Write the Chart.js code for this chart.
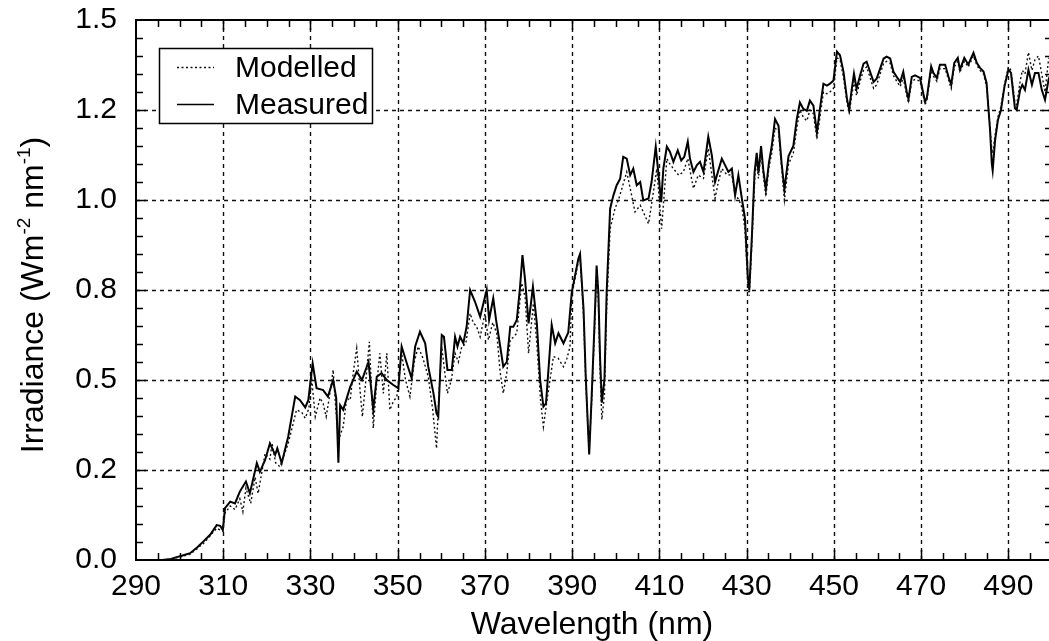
<!DOCTYPE html>
<html><head><meta charset="utf-8">
<script src="https://cdn.jsdelivr.net/npm/chart.js@4.4.0/dist/chart.umd.min.js"></script>
<style>
html,body{margin:0;padding:0;overflow:hidden;background:#fff;width:1049px;height:641px}
#wrap{position:absolute;left:0;top:0;width:1055px;height:641px}
</style></head>
<body><div id="wrap"><canvas id="c"></canvas></div>
<script>
// ---- data (wavelength in nm, irradiance in W m-2 nm-1) ----
const measuredNm = [296,298,299.3,300.5,302.4,304,305.4,307,308.5,309.3,309.9,310.4,311.6,312.7,313.8,315.2,316.1,317.7,318.4,319.6,320.7,321.9,322.4,323.4,324.9,326.5,327.6,328.8,329.5,330.5,331.4,332.9,334.0,335.2,335.9,336.4,336.8,337.5,339.1,340.6,341.8,343.3,344.4,345.2,346.3,347.5,349.0,350.15,350.9,352.1,353.2,354.0,355.1,356.3,357.0,358.2,358.9,359.3,360.1,360.6,361.4,362.4,363.15,363.7,364.3,365.05,365.8,366.6,367.7,368.9,369.65,370.4,370.95,371.9,372.55,373.5,374.2,375.0,375.8,376.5,377.3,378.05,378.6,379.2,380.0,381.0,381.9,382.65,383.4,384.0,385.3,386.1,386.85,388.0,389.1,389.9,390.65,391.4,391.8,392.6,393.1,393.6,393.9,394.5,395.1,395.6,396.0,396.4,396.8,397.4,397.9,398.7,399.45,400.2,401.0,401.7,402.5,403.3,404.0,404.8,405.6,406.3,407.5,408.2,409.15,409.8,410.4,410.9,411.7,412.4,413.2,414.2,415.0,415.7,416.5,417.0,417.8,418.6,419.3,420.1,421.2,422.0,422.75,423.4,424.3,425.05,425.8,426.6,427.35,428.1,428.9,429.6,430.25,430.6,431.2,431.8,432.3,432.7,433.3,433.8,434.4,435.1,435.75,436.5,437.3,438.0,438.65,439.6,440.7,441.5,442.2,443.0,443.8,444.5,445.3,446.1,446.8,447.6,448.4,449.1,449.9,450.7,451.4,452.2,453.0,453.5,454.1,454.6,455.2,456.0,456.8,457.5,458.3,459.1,459.8,460.6,461.4,462.1,462.9,463.65,464.4,465.2,465.9,466.7,467.1,467.85,468.6,469.75,470.9,471.3,472.3,472.8,473.6,474.3,475.5,476.25,476.9,477.6,478.4,478.9,479.9,480.8,482.0,482.75,483.5,484.3,485.0,485.4,485.8,486.2,486.4,486.95,487.6,488.3,489.1,490.0,490.6,491.5,491.9,492.7,493.2,493.8,494.6,495.4,496.1,496.9,497.65,498.4,499.2,500];
const measuredIrr = [0,0.003,0.008,0.012,0.019,0.035,0.051,0.07,0.097,0.095,0.083,0.144,0.162,0.157,0.19,0.218,0.185,0.269,0.245,0.278,0.324,0.292,0.31,0.269,0.343,0.454,0.444,0.424,0.444,0.546,0.477,0.472,0.454,0.5,0.45,0.27,0.43,0.417,0.481,0.523,0.5,0.55,0.417,0.509,0.519,0.5,0.486,0.477,0.593,0.546,0.505,0.593,0.634,0.602,0.537,0.463,0.407,0.398,0.625,0.62,0.528,0.528,0.62,0.593,0.62,0.602,0.648,0.75,0.718,0.676,0.713,0.75,0.667,0.727,0.667,0.593,0.537,0.55,0.648,0.648,0.667,0.759,0.847,0.778,0.657,0.759,0.657,0.5,0.426,0.435,0.653,0.602,0.63,0.602,0.632,0.743,0.79,0.836,0.85,0.697,0.511,0.372,0.293,0.465,0.65,0.818,0.743,0.558,0.437,0.502,0.743,0.976,1.013,1.041,1.059,1.12,1.115,1.069,1.087,1.041,1.05,0.999,1.004,1.05,1.148,1.069,0.994,1.087,1.148,1.134,1.106,1.138,1.11,1.12,1.162,1.115,1.078,1.097,1.106,1.078,1.176,1.125,1.05,1.078,1.115,1.097,1.078,1.087,1.013,1.069,1.004,0.95,0.79,0.75,0.9,1.075,1.131,1.075,1.15,1.085,1.029,1.103,1.15,1.225,1.206,1.103,1.029,1.122,1.15,1.225,1.271,1.253,1.248,1.276,1.262,1.187,1.253,1.323,1.318,1.323,1.332,1.412,1.402,1.356,1.281,1.251,1.309,1.351,1.309,1.346,1.379,1.384,1.356,1.328,1.337,1.365,1.393,1.398,1.393,1.356,1.342,1.328,1.356,1.3,1.281,1.342,1.346,1.339,1.273,1.283,1.371,1.353,1.339,1.376,1.376,1.343,1.32,1.381,1.395,1.362,1.395,1.376,1.409,1.381,1.367,1.357,1.325,1.259,1.194,1.101,1.082,1.166,1.222,1.25,1.315,1.362,1.353,1.255,1.25,1.306,1.32,1.306,1.362,1.32,1.353,1.353,1.306,1.278,1.334,1.36];

const modelledNm = [296,298,300,302.4,305.4,308.5,309.9,310.4,311.6,312.7,313.8,314.5,315.2,316.3,317.3,318.0,319.6,320.7,321.2,322.0,323.0,324.9,326.8,328.0,328.8,329.6,330.3,331.1,332.2,332.9,333.6,334.3,335.2,335.8,336.4,337.5,338.3,339.1,339.8,340.6,341.3,341.9,342.7,343.5,344.4,345.1,345.9,346.7,347.5,348.2,349.0,349.8,350.9,351.8,352.8,353.8,354.7,355.8,357.0,358.0,358.9,359.4,360.1,360.7,361.4,362.3,363.15,363.9,364.7,365.6,366.6,367.3,368.1,368.9,370.0,370.8,371.8,372.7,373.5,374.2,375.0,375.8,376.6,377.3,378.4,379.2,380.0,381.1,381.9,382.7,383.4,384.3,385.7,386.8,388.0,388.8,389.5,389.9,391.4,391.8,392.6,393.1,393.6,393.9,394.5,395.1,395.6,396.0,396.4,396.8,397.4,397.9,398.7,399.8,400.6,401.4,402.5,403.3,404.4,405.6,406.3,407.5,408.4,409.4,410.5,411.7,412.4,413.2,414.4,415.5,416.5,417.8,418.9,420.1,421.2,422.75,423.5,424.3,425.5,426.6,427.4,428.1,428.9,429.6,430.25,430.6,431.2,431.9,432.3,432.7,433.3,433.8,434.4,435.1,435.75,436.5,437.3,438.0,438.65,439.6,440.7,441.5,442.2,443.0,443.8,444.5,445.3,446.1,446.8,447.6,448.4,449.1,449.9,450.7,451.4,452.2,453.0,453.5,454.1,454.6,455.2,456.0,456.8,457.5,458.3,459.1,459.8,460.6,461.4,462.1,462.9,463.65,464.4,465.2,465.9,466.7,467.1,467.85,468.6,469.75,470.9,471.3,472.3,472.8,473.6,474.3,475.5,476.25,476.9,477.6,478.4,478.9,479.9,480.8,482.0,482.75,483.5,484.3,485.0,485.4,485.8,486.2,486.4,486.95,487.6,488.3,489.1,490.0,490.6,491.5,491.9,492.7,493.2,493.8,494.6,495.4,496.1,496.9,497.65,498.4,499.2,500];
const modelledIrr = [0,0.002,0.008,0.016,0.045,0.088,0.08,0.13,0.15,0.14,0.17,0.134,0.2,0.157,0.23,0.185,0.296,0.28,0.324,0.27,0.259,0.324,0.417,0.41,0.394,0.42,0.5,0.398,0.45,0.435,0.398,0.45,0.528,0.42,0.333,0.37,0.45,0.444,0.52,0.588,0.48,0.398,0.5,0.606,0.366,0.48,0.574,0.463,0.574,0.417,0.44,0.454,0.574,0.5,0.454,0.55,0.593,0.56,0.509,0.42,0.31,0.45,0.593,0.53,0.463,0.5,0.574,0.55,0.593,0.6,0.685,0.66,0.648,0.62,0.685,0.611,0.66,0.63,0.52,0.463,0.52,0.611,0.62,0.63,0.769,0.731,0.574,0.713,0.6,0.45,0.37,0.45,0.565,0.56,0.537,0.56,0.593,0.734,0.827,0.84,0.68,0.5,0.372,0.31,0.45,0.63,0.8,0.72,0.52,0.39,0.46,0.7,0.92,0.976,1.0,1.032,1.078,1.032,0.967,0.985,0.967,0.934,1.004,1.087,0.92,1.115,1.1,1.087,1.069,1.078,1.115,1.032,1.069,1.06,1.143,1.004,1.05,1.087,1.07,1.069,1.01,1.004,0.98,0.92,0.77,0.734,0.88,1.069,1.11,1.06,1.13,1.07,1.01,1.09,1.13,1.2,1.19,1.09,1.0,1.1,1.13,1.2,1.25,1.23,1.22,1.25,1.24,1.17,1.23,1.3,1.295,1.3,1.31,1.395,1.39,1.34,1.27,1.24,1.29,1.33,1.29,1.33,1.36,1.37,1.34,1.31,1.32,1.35,1.38,1.385,1.38,1.345,1.33,1.315,1.34,1.29,1.27,1.33,1.335,1.33,1.265,1.275,1.36,1.345,1.33,1.365,1.365,1.335,1.31,1.37,1.385,1.355,1.385,1.37,1.4,1.375,1.36,1.35,1.315,1.26,1.2,1.14,1.13,1.18,1.23,1.26,1.32,1.37,1.36,1.27,1.265,1.33,1.36,1.35,1.41,1.36,1.39,1.4,1.35,1.3,1.39,1.41];

const seriesLabels = ['Modelled', 'Measured'];
const xTickValues = [290,310,330,350,370,390,410,430,450,470,490];
const yTickValues = [0,0.25,0.5,0.75,1.0,1.25,1.5];
const yTickLabels = ['0.0','0.2','0.5','0.8','1.0','1.2','1.5'];
const xTitle = 'Wavelength (nm)';
const yTitleParts = [['Irradiance (Wm',false],['-2',true],[' nm',false],['-1',true],[')',false]];

const FONT = '"Liberation Sans", Arial, Helvetica, sans-serif';
const pts = (nm, v) => nm.map((x, i) => ({x: x, y: v[i]}));

const decor = {
  id: 'decor',
  beforeDatasetsDraw(chart) {
    const {ctx, chartArea: a, scales: {x, y}} = chart;
    ctx.save();
    ctx.strokeStyle = '#111';
    ctx.lineWidth = 1.4;
    ctx.setLineDash([4, 4]);
    ctx.beginPath();
    xTickValues.forEach(v => {
      if (v <= x.min || v >= x.max) return;
      const px = Math.round(x.getPixelForValue(v)) + 0.5;
      ctx.moveTo(px, a.top); ctx.lineTo(px, a.bottom);
    });
    yTickValues.forEach(v => {
      if (v <= y.min || v >= y.max) return;
      const py = Math.round(y.getPixelForValue(v)) + 0.5;
      ctx.moveTo(a.left, py); ctx.lineTo(a.right, py);
    });
    ctx.stroke();
    ctx.restore();
  },
  afterDatasetsDraw(chart) {
    const {ctx, chartArea: a, scales: {x, y}} = chart;
    ctx.save();
    ctx.strokeStyle = '#000';
    ctx.setLineDash([]);
    ctx.lineWidth = 1.5;
    ctx.beginPath();
    for (let k = 1; k * 5 < (x.max - x.min); k++) {
      const v = x.min + k * 5;
      const px = Math.round(x.getPixelForValue(v)) + 0.5;
      const len = (k % 4 === 0) ? 10 : 7;
      ctx.moveTo(px, a.bottom); ctx.lineTo(px, a.bottom - len);
      ctx.moveTo(px, a.top); ctx.lineTo(px, a.top + len);
    }
    for (let k = 1; k < 30; k++) {
      const v = k * 0.05;
      const py = Math.round(y.getPixelForValue(v)) + 0.5;
      const len = (k % 5 === 0) ? 10 : 7;
      ctx.moveTo(a.left, py); ctx.lineTo(a.left + len, py);
      ctx.moveTo(a.right, py); ctx.lineTo(a.right - len, py);
    }
    ctx.stroke();
    ctx.lineWidth = 2;
    ctx.strokeRect(a.left, a.top, a.right - a.left, a.bottom - a.top);

    // legend box
    const lx = a.left + 23, ly = a.top + 28, lw = 213, lh = 75;
    ctx.fillStyle = '#fff';
    ctx.fillRect(lx, ly, lw, lh);
    ctx.lineWidth = 1.5;
    ctx.strokeRect(lx + 0.5, ly + 0.5, lw, lh);
    const ds = chart.data.datasets;
    const rows = [ly + 19, ly + 56];
    ds.forEach((d, i) => {
      ctx.beginPath();
      ctx.lineWidth = Math.min(d.borderWidth, 1.6);
      ctx.setLineDash(d.borderDash || []);
      ctx.strokeStyle = d.borderColor;
      ctx.moveTo(lx + 18, rows[i] + 0.5); ctx.lineTo(lx + 55, rows[i] + 0.5);
      ctx.stroke();
      ctx.setLineDash([]);
      ctx.fillStyle = '#000';
      ctx.font = '30px ' + FONT;
      ctx.textAlign = 'left';
      ctx.textBaseline = 'alphabetic';
      ctx.fillText(d.label, lx + 76, rows[i] + 10);
    });
    ctx.restore();
  },
  afterDraw(chart) {
    const {ctx, chartArea: a} = chart;
    ctx.save();
    ctx.fillStyle = '#000';
    ctx.font = '32px ' + FONT;
    ctx.textAlign = 'center';
    ctx.textBaseline = 'alphabetic';
    ctx.fillText(xTitle, (a.left + a.right) / 2 - 2, 634);
    const big = '32px ' + FONT, small = '19px ' + FONT;
    let total = 0;
    const widths = yTitleParts.map(([t, sup]) => { ctx.font = sup ? small : big; const w = ctx.measureText(t).width; total += w; return w; });
    ctx.translate(43, (a.top + a.bottom) / 2 + 5);
    ctx.rotate(-Math.PI / 2);
    ctx.textAlign = 'left';
    let cx = -total / 2;
    yTitleParts.forEach(([t, sup], i) => {
      ctx.font = sup ? small : big;
      ctx.fillText(t, cx, sup ? -13 : 0);
      cx += widths[i];
    });
    ctx.restore();
  }
};

new Chart(document.getElementById('c'), {
  type: 'line',
  data: {
    datasets: [
      {label: seriesLabels[0], data: pts(modelledNm, modelledIrr), borderColor: '#111', borderWidth: 1.4, borderDash: [2, 2.5], pointRadius: 0, tension: 0, fill: false},
      {label: seriesLabels[1], data: pts(measuredNm, measuredIrr), borderColor: '#000', borderWidth: 2, pointRadius: 0, tension: 0, fill: false}
    ]
  },
  options: {
    responsive: true,
    maintainAspectRatio: false,
    animation: false,
    events: [],
    layout: {padding: {top: 20, right: 3, left: 0, bottom: 0}},
    plugins: {legend: {display: false}, tooltip: {enabled: false}, title: {display: false}},
    scales: {
      x: {
        type: 'linear', min: 290, max: 500,
        grid: {display: false, drawTicks: false},
        border: {display: false},
        afterBuildTicks: s => { s.ticks = xTickValues.map(v => ({value: v})); },
        afterFit: s => { s.height = 81; s.paddingLeft = 0; s.paddingRight = 0; },
        ticks: {font: {family: FONT, size: 30}, color: '#000', padding: 9, maxRotation: 0, autoSkip: false, callback: v => String(v)}
      },
      y: {
        type: 'linear', min: 0, max: 1.5,
        grid: {display: false, drawTicks: false},
        border: {display: false},
        afterBuildTicks: s => { s.ticks = yTickValues.map(v => ({value: v})); },
        afterFit: s => { s.width = 136; s.paddingTop = 0; s.paddingBottom = 0; },
        ticks: {font: {family: FONT, size: 30}, color: '#000', padding: 19, autoSkip: false, callback: v => yTickLabels[yTickValues.indexOf(v)]}
      }
    }
  },
  plugins: [decor]
});
</script>
</body></html>
